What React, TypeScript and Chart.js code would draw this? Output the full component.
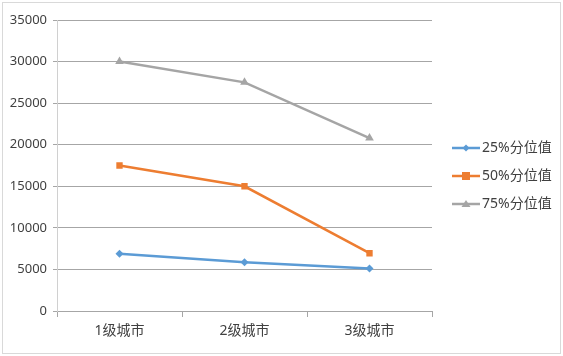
import React, { useEffect, useRef } from "react";
import { Chart, registerables } from "chart.js";

Chart.register(...registerables);

const categories = ["1级城市", "2级城市", "3级城市"];
const seriesNames = ["25%分位值", "50%分位值", "75%分位值"];
const p25 = [6900, 5850, 5100];
const p50 = [17500, 15000, 6950];
const p75 = [30000, 27500, 20800];
const colors = ["#5B9BD5", "#ED7D31", "#A5A5A5"];
const pointStyles = ["rectRot", "rect", "triangle"];
const pointRadii = [4, 4.5, 5];

const FONT = "'Noto Sans', 'Noto Sans CJK SC', sans-serif";

export default function App() {
  const ref = useRef<HTMLCanvasElement>(null);
  useEffect(() => {
    if (!ref.current) return;
    const data = [p25, p50, p75];
    const plugin = {
      id: "legendDraw",
      afterDraw(chart: any) {
        const ctx = chart.ctx;
        const x0 = 452;
        const ys = [148, 176, 204];
        ctx.save();
        seriesNames.forEach((name, i) => {
          const y = ys[i];
          ctx.strokeStyle = colors[i];
          ctx.fillStyle = colors[i];
          ctx.lineWidth = 2.5;
          ctx.beginPath();
          ctx.moveTo(x0, y);
          ctx.lineTo(x0 + 28, y);
          ctx.stroke();
          const cx = x0 + 14;
          ctx.beginPath();
          if (i === 0) {
            ctx.moveTo(cx, y - 3.5);
            ctx.lineTo(cx + 3.5, y);
            ctx.lineTo(cx, y + 3.5);
            ctx.lineTo(cx - 3.5, y);
            ctx.closePath();
          } else if (i === 1) {
            ctx.rect(cx - 4, y - 4, 8, 8);
          } else {
            ctx.moveTo(cx, y - 4);
            ctx.lineTo(cx + 4.5, y + 3);
            ctx.lineTo(cx - 4.5, y + 3);
            ctx.closePath();
          }
          ctx.fill();
          ctx.fillStyle = "#404040";
          ctx.font = `14px ${FONT}`;
          ctx.textBaseline = "middle";
          ctx.textAlign = "left";
          ctx.fillText(name, x0 + 30, y);
        });
        ctx.restore();
      },
    };
    const chart = new Chart(ref.current, {
      type: "line",
      data: {
        labels: categories,
        datasets: seriesNames.map((name, i) => ({
          label: name,
          data: data[i],
          borderColor: colors[i],
          backgroundColor: colors[i],
          borderWidth: 2.5,
          pointStyle: pointStyles[i] as any,
          pointRadius: pointRadii[i],
          pointBorderWidth: 0,
          pointBackgroundColor: colors[i],
          tension: 0,
        })),
      },
      options: {
        responsive: false,
        animation: false,
        layout: { padding: { left: 0, right: 131, top: 20, bottom: 0 } },
        plugins: { legend: { display: false }, tooltip: { enabled: false } },
        scales: {
          x: {
            offset: true,
            grid: {
              offset: true,
              drawOnChartArea: false,
              drawTicks: true,
              tickLength: 6,
              color: "#A6A6A6",
            },
            border: { color: "#A6A6A6", width: 1 },
            ticks: {
              color: "#404040",
              font: { size: 14, family: FONT },
              padding: 6,
            },
            afterFit: (s: any) => {
              s.height = 45;
            },
          },
          y: {
            min: 0,
            max: 35000,
            ticks: {
              stepSize: 5000,
              color: "#404040",
              font: { size: 13, family: FONT },
              padding: 6,
              callback: (v: any) => String(v),
            },
            grid: { color: "#A6A6A6", tickLength: 4 },
            border: { color: "#D0D0D0", width: 1 },
            afterFit: (s: any) => {
              s.width = 57;
            },
          },
        },
      },
      plugins: [plugin],
    });
    return () => chart.destroy();
  }, []);
  return (
    <div style={{ position: "fixed", left: 0, top: 0, width: 563, height: 356, background: "#fff" }}>
      <canvas ref={ref} width={563} height={356} style={{ position: "absolute", left: 0, top: 0 }} />
      <div
        style={{
          position: "absolute",
          left: 2,
          top: 2,
          width: 557,
          height: 350,
          border: "1px solid #D9D9D9",
          pointerEvents: "none",
        }}
      />
    </div>
  );
}
